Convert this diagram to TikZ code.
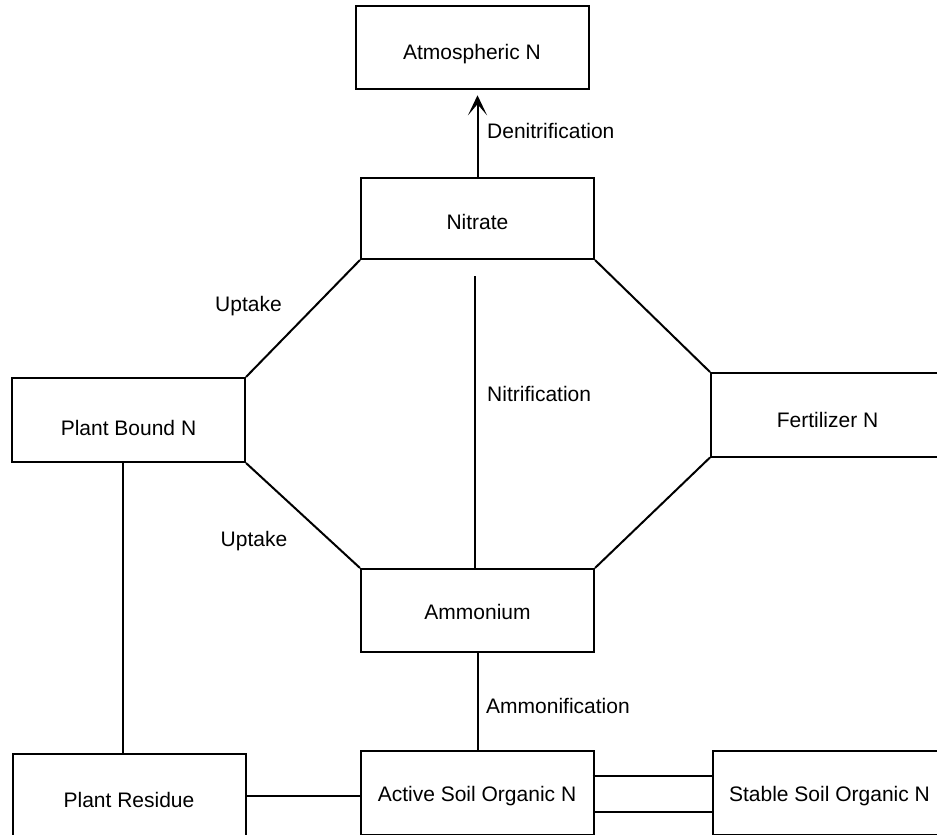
\documentclass[tikz,border=0pt]{standalone}
\usepackage{fontspec}
\setmainfont{Liberation Sans}
\usetikzlibrary{arrows.meta}
\begin{document}
\begin{tikzpicture}[x=1pt, y=-1pt,
  box/.style={draw, line width=2pt, minimum width=233pt, minimum height=84pt,
    inner sep=0pt, text depth=0pt, font=\fontsize{21}{25}\selectfont},
  link/.style={line width=2pt},
  lbl/.style={inner sep=0pt, font=\fontsize{21}{25}\selectfont}]
\useasboundingbox (0,0) rectangle (937,835);
\clip (0,0) rectangle (937,835);
\fill[white] (0,0) rectangle (937,835);

% nitrogen pools
\node[box, minimum height=83.5pt, text height=23pt] (atm)  at (472,47.5)    {Atmospheric N};
\node[box, minimum height=81pt,   text height=21pt] (nit)  at (477.5,218.5) {Nitrate};
\node[box, text height=30pt]                        (pb)   at (128.5,420)   {Plant Bound N};
\node[box, minimum height=83.5pt, text height=25pt] (fert) at (827.5,414.75){Fertilizer N};
\node[box, minimum height=83pt,   text height=17pt] (amm)  at (477.5,610.5) {Ammonium};
\node[box, text height=23pt]                        (pr)   at (129,796)     {Plant Residue};
\node[box, text height=17pt]                        (act)  at (477,793)     {Active Soil Organic N};
\node[box, text height=17pt]                        (stab) at (829.5,793)   {Stable Soil Organic N};

% denitrification to the atmosphere
\draw[link, -{Stealth[length=20pt,width=19pt,inset=11pt]}, shorten >=5pt]
  (nit.north) -- (nit.north |- atm.south);

% octagon of transfers
\draw[link] (nit.south west) -- (pb.north east);
\draw[link] (nit.south east) -- (fert.north west);
\draw[link] (pb.south east) -- (amm.north west);
\draw[link] (fert.south west) -- (amm.north east);

% nitrification
\coordinate (nitr) at (475,276);
\draw[link] (nitr) -- (nitr |- amm.north);

% ammonification
\draw[link] (amm.south) -- (amm.south |- act.north);

% plant bound N to plant residue
\coordinate (pbdown) at ([xshift=-5.5pt]pb.south);
\draw[link] (pbdown) -- (pbdown |- pr.north);

% residue to active pool
\draw[link] (pr.east) -- (pr.east -| act.west);

% active and stable pools
\coordinate (aup) at ([yshift=17pt]act.east);
\coordinate (alo) at ([yshift=-19pt]act.east);
\draw[link] ([xshift=-2pt]aup) -- (aup -| stab.west);
\draw[link] (alo) -- (alo -| stab.west);

% process labels
\node[lbl, anchor=base west] (ldenit) at (487,138)   {Denitrification};
\node[lbl, anchor=base]      (lup1)   at (248.5,311.5) {Uptake};
\node[lbl, anchor=base west] (lnitr)  at (487,401.5) {Nitrification};
\node[lbl, anchor=base]      (lup2)   at (254,546)   {Uptake};
\node[lbl, anchor=base west] (lammo)  at (486,713)   {Ammonification};
\end{tikzpicture}
\end{document}
